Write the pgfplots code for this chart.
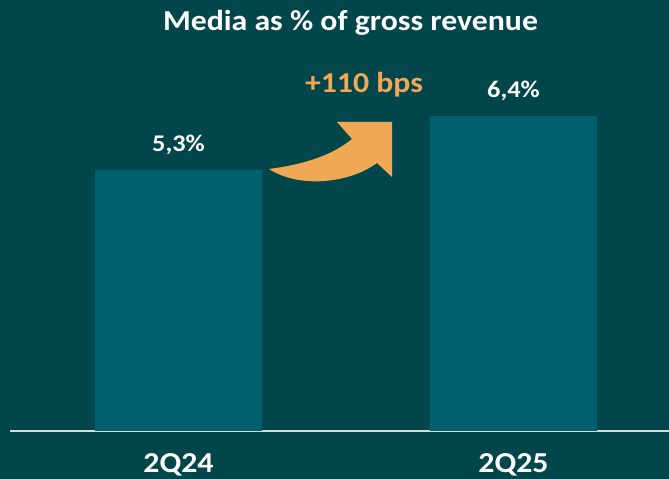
\documentclass[border=0pt]{standalone}
\usepackage{pgfplots}
\pgfplotsset{compat=1.18}
\usepackage{fontspec}
\setmainfont[FakeStretch=1.1]{Carlito}
\definecolor{bgteal}{RGB}{0,70,75}
\definecolor{barteal}{RGB}{0,95,108}
\definecolor{accent}{RGB}{240,168,85}
\definecolor{axisgray}{RGB}{217,217,217}
\begin{document}
\begin{tikzpicture}[x=1bp,y=1bp]
% canvas, in pixel units of the 669x479 reference
\fill[bgteal] (0,0) rectangle (669,479);
\useasboundingbox (0,0) rectangle (669,479);

\node[font=\fontsize{29}{32}\selectfont\bfseries, text=white, anchor=base]
    at (350.5,448) {Media as \% of gross revenue};

\begin{axis}[
    anchor=origin, at={(178.5bp,48bp)},
    x=335bp, y=49.2bp,
    xmin=-0.503, xmax=1.464,
    ymin=0, ymax=8.7,
    clip=false,
    axis y line=none,
    axis x line=bottom,
    x axis line style={draw=axisgray, line width=1.5bp, -},
    xtick style={draw=none},
    ytick=\empty,
    ybar, bar width=167bp,
    xtick={0,1}, xticklabels={2Q24,2Q25},
    xticklabel style={font=\fontsize{29}{32}\selectfont\bfseries, text=white,
        anchor=base, inner sep=0pt, yshift=-37bp},
    point meta=explicit symbolic,
    nodes near coords,
    nodes near coords style={font=\fontsize{24}{27}\selectfont\bfseries, text=white, anchor=base, yshift=19bp},
]
\addplot[fill=barteal, draw=none] coordinates {
    (0,5.3) [5,3\%]
    (1,6.4) [6,4\%]
};
\end{axis}

% growth arrow between the bars
\fill[accent] (269,310) .. controls (300,314) and (330,322) .. (352,340)
    -- (337,357) -- (392,357) -- (392,302) -- (377,316)
    .. controls (350,296) and (300,290) .. (269,310) -- cycle;
\node[font=\fontsize{29}{32}\selectfont\bfseries, text=accent, anchor=base]
    at (364,386) {+110 bps};
\end{tikzpicture}
\end{document}
